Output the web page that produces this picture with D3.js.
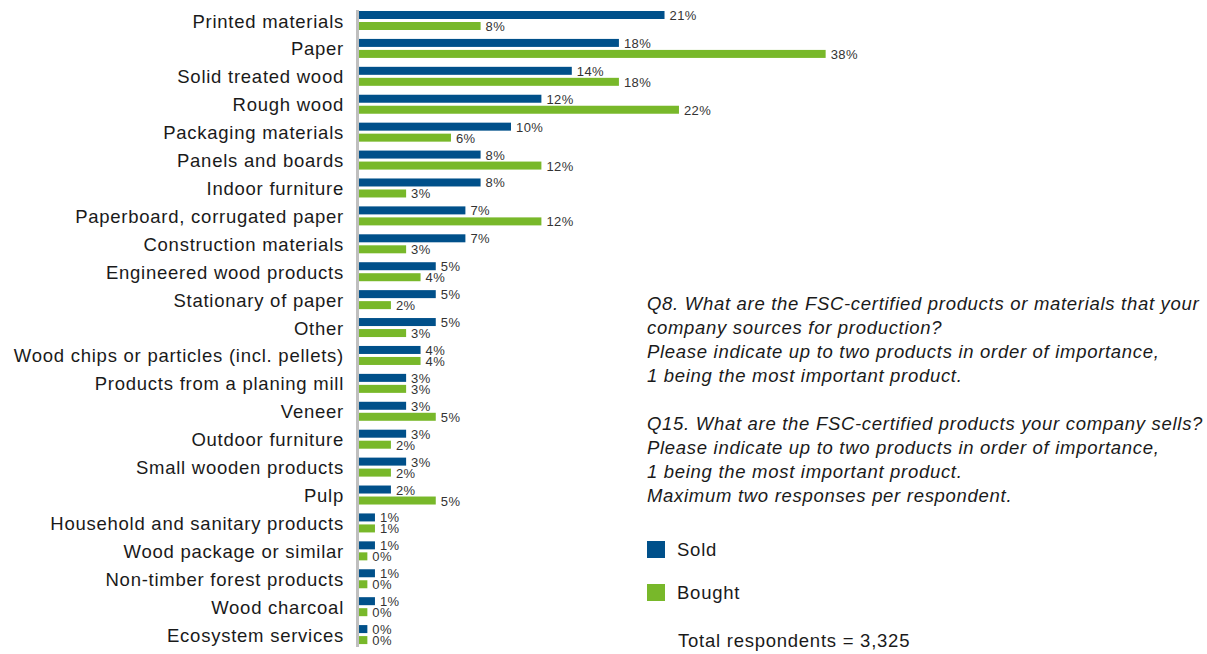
<!DOCTYPE html>
<html><head><meta charset="utf-8">
<script src="https://cdn.jsdelivr.net/npm/d3@7"></script>
<style>
body{margin:0;background:#fff}
text{font-family:"Liberation Sans",Arial,Helvetica,sans-serif}
</style>
</head><body>
<svg id="chart" width="1207" height="654"></svg>
<script>
const categories = [
  "Printed materials","Paper","Solid treated wood","Rough wood","Packaging materials",
  "Panels and boards","Indoor furniture","Paperboard, corrugated paper","Construction materials",
  "Engineered wood products","Stationary of paper","Other","Wood chips or particles (incl. pellets)",
  "Products from a planing mill","Veneer","Outdoor furniture","Small wooden products","Pulp",
  "Household and sanitary products","Wood package or similar","Non-timber forest products",
  "Wood charcoal","Ecosystem services"
];
// bar lengths as drawn in the picture (percent)
const soldValues   = [20.1,17.1,14.0,12.0,10.0,8.0,8.0,7.0,7.0,5.05,5.05,5.05,4.05,3.1,3.1,3.1,3.1,2.1,1.05,1.05,1.05,1.05,0.55];
const boughtValues = [8.0,30.7,17.1,21.05,6.05,12.0,3.1,12.0,3.1,4.05,2.1,3.1,4.05,3.1,5.05,2.1,2.1,5.05,1.05,0.55,0.55,0.55,0.55];
// printed data labels
const soldLabels   = ["21%","18%","14%","12%","10%","8%","8%","7%","7%","5%","5%","5%","4%","3%","3%","3%","3%","2%","1%","1%","1%","1%","0%"];
const boughtLabels = ["8%","38%","18%","22%","6%","12%","3%","12%","3%","4%","2%","3%","4%","3%","5%","2%","2%","5%","1%","0%","0%","0%","0%"];
const seriesNames = ["Sold","Bought"];
const seriesColors = ["#00508a","#78b82a"];
const noteLines = [
  "Q8. What are the FSC-certified products or materials that your",
  "company sources for production?",
  "Please indicate up to two products in order of importance,",
  "1 being the most important product.",
  "",
  "Q15. What are the FSC-certified products your company sells?",
  "Please indicate up to two products in order of importance,",
  "1 being the most important product.",
  "Maximum two responses per respondent."
];
const totalNote = "Total respondents = 3,325";

const svg = d3.select("#chart");
const x = d3.scaleLinear().domain([0, 10]).range([359, 511]);
const y = d3.scaleBand().domain(categories).range([7, 649]).padding(0);

// axis line
svg.append("line")
  .attr("x1", 357.5).attr("x2", 357.5)
  .attr("y1", 10).attr("y2", 647)
  .attr("stroke", "#bfbfbf").attr("stroke-width", 3);

const series = [
  {name: seriesNames[0], values: soldValues, labels: soldLabels, color: seriesColors[0], off: 4},
  {name: seriesNames[1], values: boughtValues, labels: boughtLabels, color: seriesColors[1], off: 15}
];
const barH = 8;

series.forEach(s => {
  const g = svg.append("g");
  g.selectAll("rect").data(categories).join("rect")
    .attr("x", x(0))
    .attr("y", (d) => y(d) + s.off)
    .attr("width", (d, i) => x(s.values[i]) - x(0))
    .attr("height", barH)
    .attr("fill", s.color);
  g.selectAll("text").data(categories).join("text")
    .attr("x", (d, i) => x(s.values[i]) + 5)
    .attr("y", (d) => y(d) + s.off + barH + 1)
    .attr("font-size", 13)
    .attr("letter-spacing", 0.4)
    .attr("fill", "#333")
    .text((d, i) => s.labels[i]);
});

// category labels
svg.append("g").selectAll("text").data(categories).join("text")
  .attr("x", 344)
  .attr("y", d => y(d) + 20.5)
  .attr("text-anchor", "end")
  .attr("font-size", 18.5)
  .attr("letter-spacing", 0.75)
  .attr("fill", "#1a1a1a")
  .text(d => d);

// notes
svg.append("g").selectAll("text").data(noteLines).join("text")
  .attr("x", 647)
  .attr("y", (d, i) => 310 + i * 24)
  .attr("font-size", 18.5)
  .attr("letter-spacing", 0.7)
  .attr("font-style", "italic")
  .attr("fill", "#1a1a1a")
  .text(d => d);

// legend
const legY = [541, 584];
const leg = svg.append("g");
seriesNames.forEach((n, i) => {
  leg.append("rect").attr("x", 647).attr("y", legY[i]).attr("width", 18).attr("height", 17).attr("fill", seriesColors[i]);
  leg.append("text").attr("x", 677).attr("y", legY[i] + 15).attr("font-size", 18.5).attr("letter-spacing", 0.75).attr("fill", "#1a1a1a").text(n);
});
svg.append("text").attr("x", 678).attr("y", 646.5).attr("font-size", 18.5).attr("letter-spacing", 0.75).attr("fill", "#1a1a1a").text(totalNote);
</script>
</body></html>
